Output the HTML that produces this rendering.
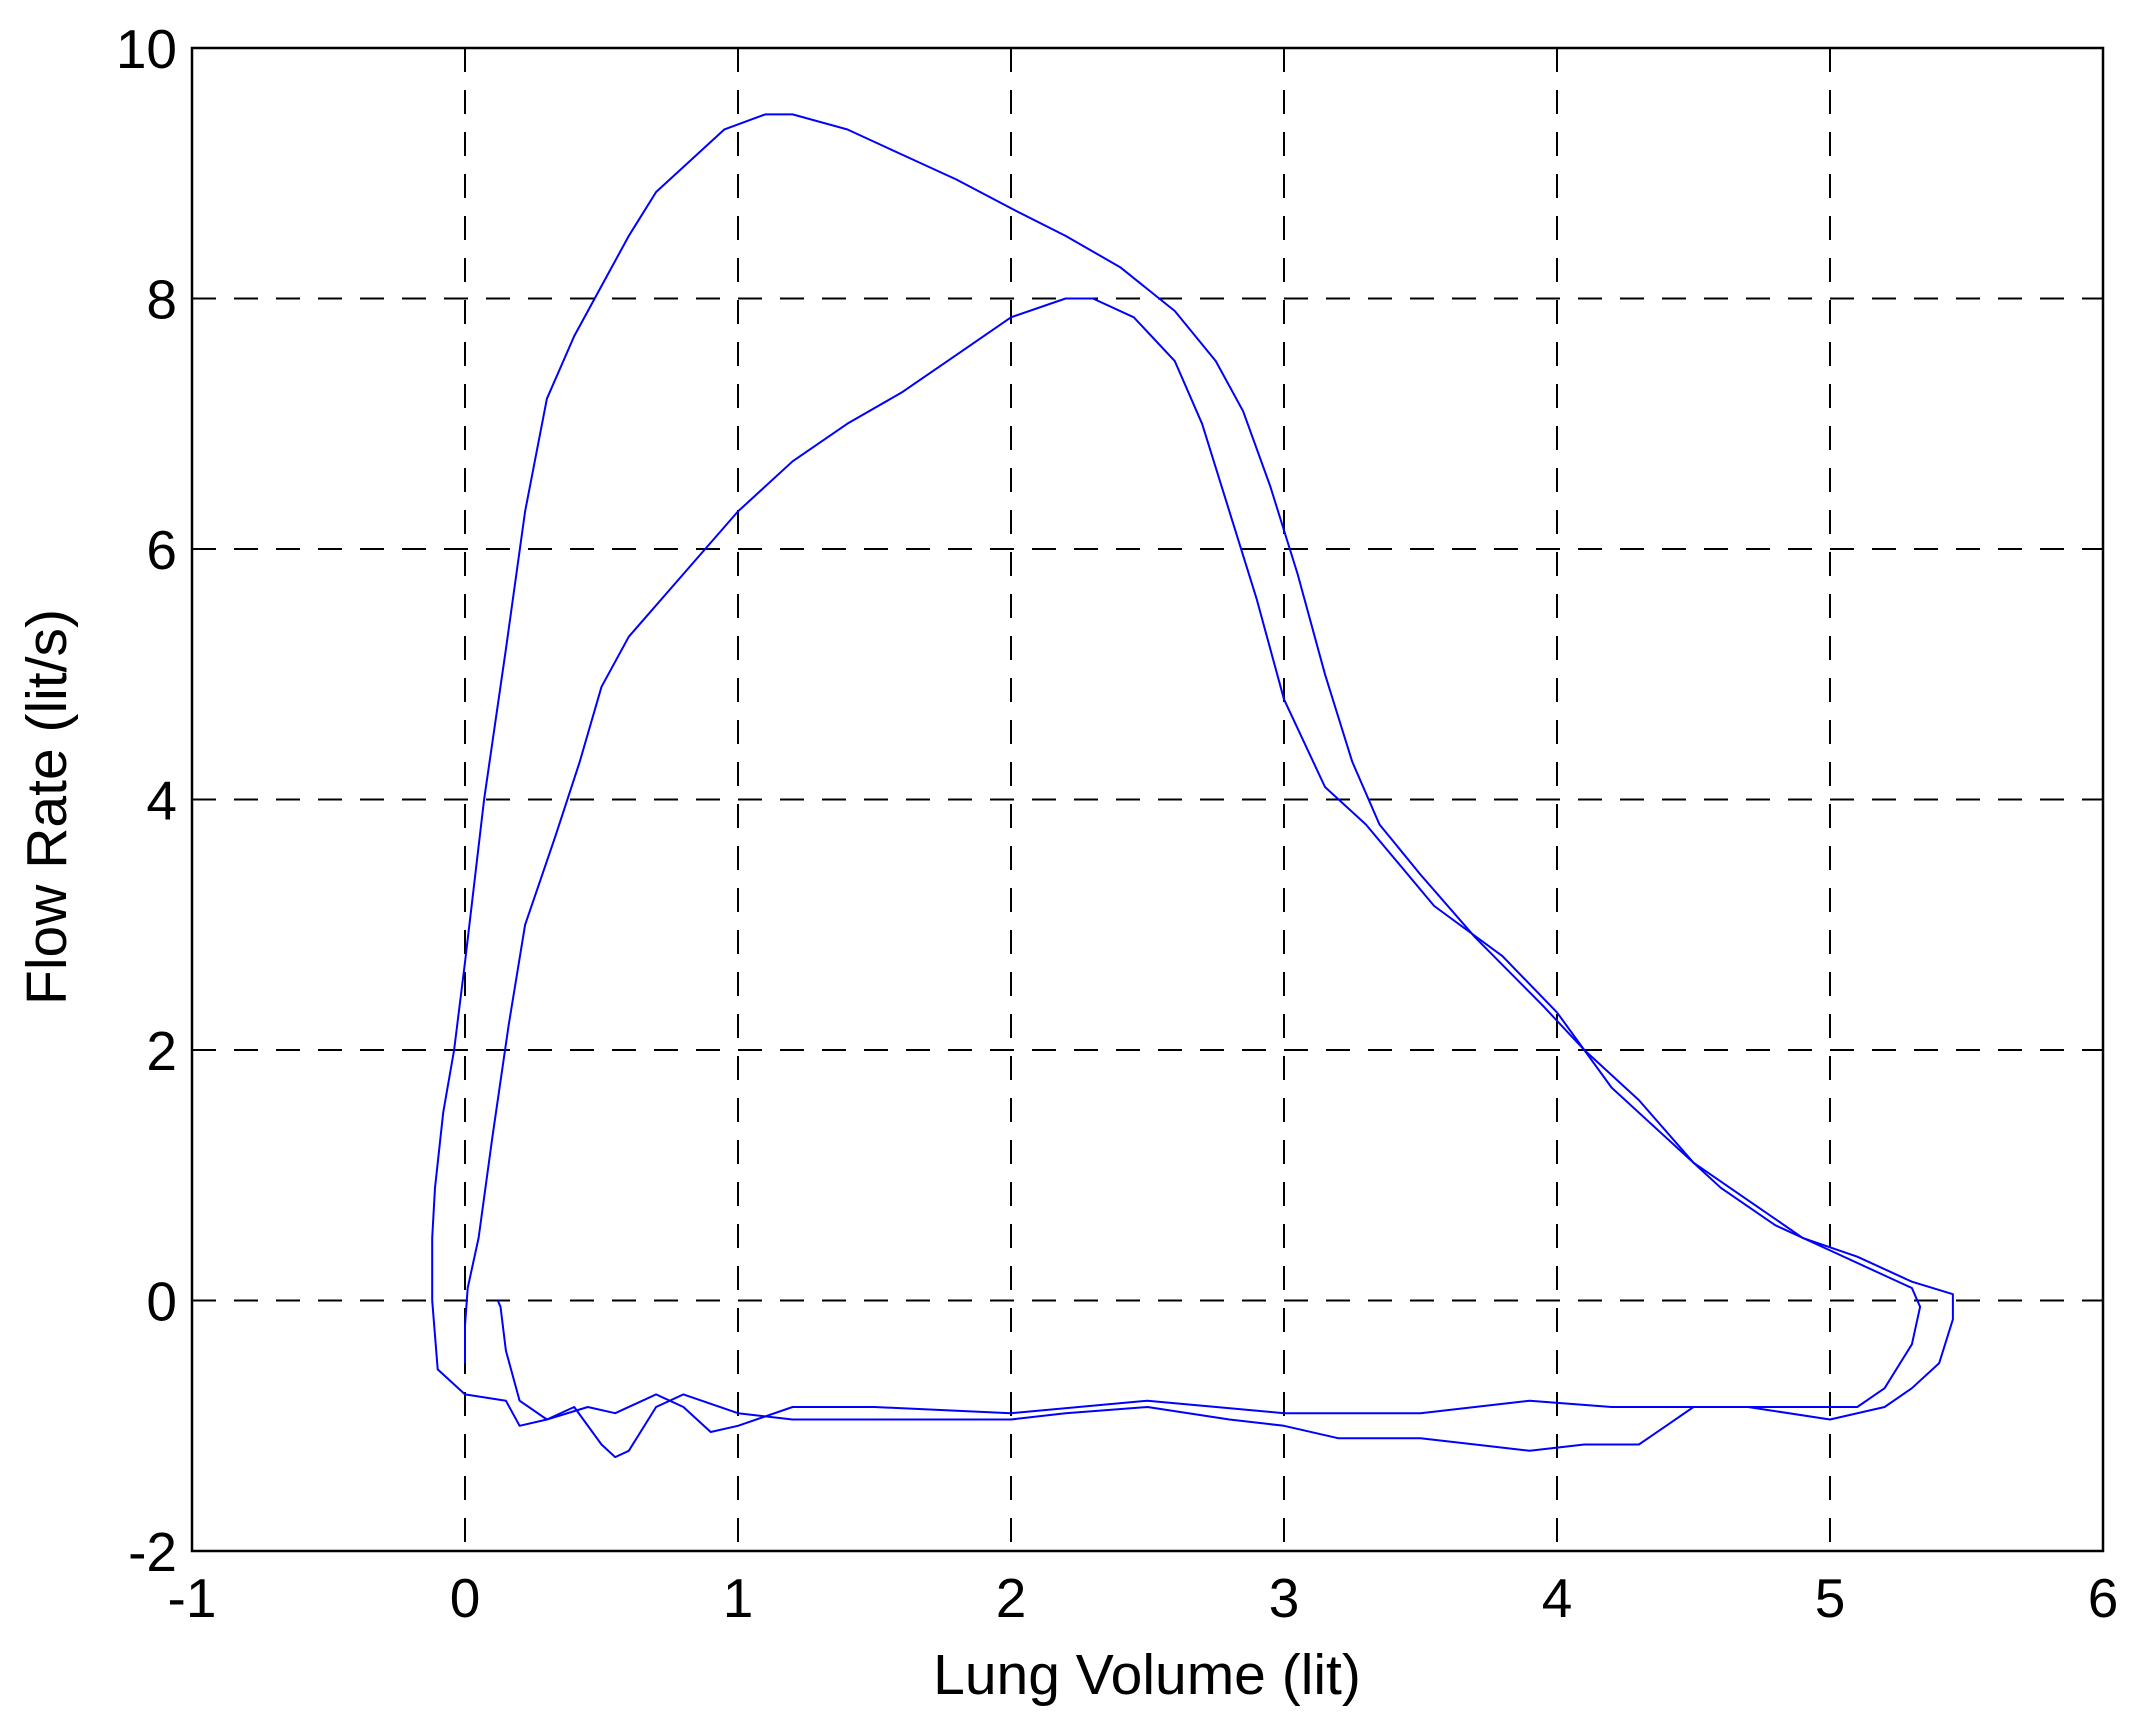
<!DOCTYPE html>
<html><head><meta charset="utf-8"><style>
html,body{margin:0;padding:0;background:#fff;}
svg{display:block;font-family:"Liberation Sans",Arial,sans-serif;}
</style></head><body>
<svg id="chart" width="2148" height="1722" viewBox="0 0 2148 1722" xmlns="http://www.w3.org/2000/svg"></svg>
<script>
const xTicks=[-1,0,1,2,3,4,5,6];
const yTicks=[-2,0,2,4,6,8,10];
const outerX=[-0.12,-0.12,-0.11,-0.08,-0.04,0,0.07,0.15,0.22,0.3,0.4,0.5,0.6,0.7,0.85,0.95,1.1,1.2,1.4,1.6,1.8,2.0,2.2,2.4,2.6,2.75,2.85,2.95,3.05,3.15,3.25,3.35,3.5,3.7,3.95,4.1,4.3,4.5,4.7,4.9,5.1,5.3,5.45,5.45,5.4,5.3,5.2,5.0,4.7,4.5,4.4,4.3,4.1,3.9,3.7,3.5,3.2,3.0,2.8,2.5,2.2,2.0,1.5,1.2,1.0,0.8,0.7,0.6,0.55,0.5,0.4,0.3,0.2,0.15,0.0,-0.1,-0.12];
const outerY=[0,0.5,0.9,1.5,2.0,2.7,4.0,5.2,6.3,7.2,7.7,8.1,8.5,8.85,9.15,9.35,9.47,9.47,9.35,9.15,8.95,8.72,8.5,8.25,7.9,7.5,7.1,6.5,5.8,5.0,4.3,3.8,3.4,2.9,2.35,2.0,1.6,1.1,0.8,0.5,0.35,0.15,0.05,-0.15,-0.5,-0.7,-0.85,-0.95,-0.85,-0.85,-1.0,-1.15,-1.15,-1.2,-1.15,-1.1,-1.1,-1.0,-0.95,-0.85,-0.9,-0.95,-0.95,-0.95,-0.9,-0.75,-0.85,-1.2,-1.25,-1.15,-0.85,-0.95,-1.0,-0.8,-0.75,-0.55,0];
const innerX=[0.12,0.13,0.15,0.2,0.3,0.45,0.55,0.7,0.8,0.9,1.0,1.2,1.5,2.0,2.5,3.0,3.5,3.9,4.2,4.6,5.0,5.1,5.2,5.3,5.33,5.3,5.2,5.0,4.8,4.6,4.4,4.2,4.0,3.8,3.55,3.3,3.15,3.0,2.9,2.8,2.7,2.6,2.45,2.3,2.2,2.0,1.8,1.6,1.4,1.2,1.0,0.8,0.6,0.5,0.42,0.33,0.22,0.16,0.1,0.05,0.01,0.0,0.0];
const innerY=[0,-0.05,-0.4,-0.8,-0.95,-0.85,-0.9,-0.75,-0.85,-1.05,-1.0,-0.85,-0.85,-0.9,-0.8,-0.9,-0.9,-0.8,-0.85,-0.85,-0.85,-0.85,-0.7,-0.35,-0.05,0.1,0.2,0.4,0.6,0.9,1.3,1.7,2.3,2.75,3.15,3.8,4.1,4.8,5.6,6.3,7.0,7.5,7.85,8.0,8.0,7.85,7.55,7.25,7.0,6.7,6.3,5.8,5.3,4.9,4.3,3.7,3.0,2.2,1.3,0.5,0.1,-0.2,-0.5];
const L=192,R=2103,T=48,B=1551,XMIN=-1,XMAX=6,YMIN=-2,YMAX=10;
function sx(v){return L+(v-XMIN)/(XMAX-XMIN)*(R-L);}
function sy(v){return B-(v-YMIN)/(YMAX-YMIN)*(B-T);}
const svg=document.getElementById('chart');
const NS='http://www.w3.org/2000/svg';
function mk(tag,attrs,parent){const e=document.createElementNS(NS,tag);for(const k in attrs)e.setAttribute(k,attrs[k]);(parent||svg).appendChild(e);return e;}
const grid=mk('g',{});


xTicks.forEach(v=>{
  if(v>XMIN&&v<XMAX){const l=mk('line',{x1:sx(v),x2:sx(v),y1:T,y2:B,stroke:'#000','stroke-width':2,'stroke-dasharray':'24,18'},grid);
  
  }
  const t=mk('text',{x:sx(v),y:1617,'font-size':55,'text-anchor':'middle',fill:'#000'});
  t.textContent=v;
  
  
});
yTicks.forEach(v=>{
  if(v>YMIN&&v<YMAX){const l=mk('line',{x1:L,x2:R,y1:sy(v),y2:sy(v),stroke:'#000','stroke-width':2,'stroke-dasharray':'24,18'},grid);
  
  }
  const t=mk('text',{x:177,y:sy(v)+20,'font-size':55,'text-anchor':'end',fill:'#000'});
  t.textContent=v;
  
  
});
const frame=mk('rect',{x:L,y:T,width:R-L,height:B-T,fill:'none',stroke:'#000','stroke-width':2.5});


function drawLine(xs,ys,name){
  const pts=xs.map((x,i)=>sx(x).toFixed(1)+','+sy(ys[i]).toFixed(1)).join(' ');
  const p=mk('polyline',{points:pts,fill:'none',stroke:'#0000ff','stroke-width':2,'stroke-linejoin':'round'});
  
  
}
drawLine(outerX,outerY,'outer-loop-line');
drawLine(innerX,innerY,'inner-loop-line');
const xl=mk('text',{x:1147,y:1694,'font-size':57,'text-anchor':'middle',fill:'#000'});
xl.textContent='Lung Volume (lit)';


const yl=mk('text',{x:0,y:0,'font-size':57,'text-anchor':'middle',fill:'#000',transform:'translate(66,807) rotate(-90)'});
yl.textContent='Flow Rate (lit/s)';


</script>
</body></html>
